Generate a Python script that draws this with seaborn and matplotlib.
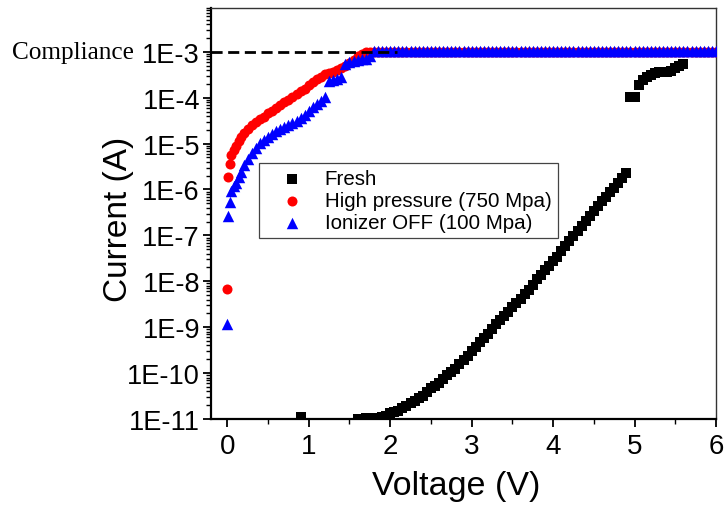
import numpy as np
import pandas as pd
import matplotlib
matplotlib.use("Agg")
import matplotlib.pyplot as plt
import seaborn as sns
from matplotlib.ticker import LogLocator, FixedLocator, MultipleLocator, NullFormatter, FuncFormatter
import matplotlib.transforms as mtransforms

sns.set_theme(style="white")
plt.rcParams['font.family'] = ['Liberation Sans', 'DejaVu Sans']
plt.rcParams['text.color'] = 'black'
plt.rcParams['axes.labelcolor'] = 'black'

# ---------------- data (voltage in V, log10 of current in A) ----------------
fresh_voltage = [0.9,
    1.6, 1.65, 1.7, 1.75, 1.8, 1.85, 1.9, 1.95, 2.0, 2.05, 2.1, 2.15, 2.2, 2.25,
    2.3, 2.35, 2.4, 2.45, 2.5, 2.55, 2.6, 2.65, 2.7, 2.75, 2.8, 2.85, 2.9, 2.95,
    3.0, 3.05, 3.1, 3.15, 3.2, 3.25, 3.3, 3.35, 3.4, 3.45, 3.5, 3.55, 3.6, 3.65,
    3.7, 3.75, 3.8, 3.85, 3.9, 3.95, 4.0, 4.05, 4.1, 4.15, 4.2, 4.25, 4.3, 4.35,
    4.4, 4.45, 4.5, 4.55, 4.6, 4.65, 4.7, 4.75, 4.8, 4.85, 4.9,
    4.95, 5.0, 5.05, 5.1, 5.15, 5.2, 5.25, 5.3, 5.35, 5.4, 5.45, 5.5, 5.55, 5.6]
fresh_log10_current = [-10.96,
    -11.0, -11.0, -10.98, -10.97, -10.98, -10.97, -10.95, -10.93, -10.88, -10.85, -10.82, -10.77, -10.72, -10.66,
    -10.60, -10.55, -10.49, -10.41, -10.33, -10.28, -10.22, -10.13, -10.05, -9.97, -9.90, -9.80, -9.71, -9.63,
    -9.52, -9.43, -9.33, -9.23, -9.14, -9.04, -8.94, -8.85, -8.76, -8.67, -8.57, -8.48, -8.38, -8.28,
    -8.18, -8.07, -7.96, -7.86, -7.76, -7.66, -7.56, -7.46, -7.35, -7.24, -7.13, -7.02, -6.90, -6.79,
    -6.68, -6.57, -6.46, -6.36, -6.26, -6.16, -6.06, -5.96, -5.86, -5.76, -5.65,
    -3.98, -3.98, -3.72, -3.62, -3.55, -3.50, -3.46, -3.45, -3.45, -3.44, -3.41, -3.36, -3.31, -3.27]

plateau_voltage = [
    1.85, 1.9, 1.95, 2.0, 2.05, 2.1, 2.15, 2.2, 2.25, 2.3, 2.35, 2.4, 2.45, 2.5,
    2.55, 2.6, 2.65, 2.7, 2.75, 2.8, 2.85, 2.9, 2.95, 3.0, 3.05, 3.1, 3.15, 3.2,
    3.25, 3.3, 3.35, 3.4, 3.45, 3.5, 3.55, 3.6, 3.65, 3.7, 3.75, 3.8, 3.85, 3.9,
    3.95, 4.0, 4.05, 4.1, 4.15, 4.2, 4.25, 4.3, 4.35, 4.4, 4.45, 4.5, 4.55, 4.6,
    4.65, 4.7, 4.75, 4.8, 4.85, 4.9, 4.95, 5.0, 5.05, 5.1, 5.15, 5.2, 5.25, 5.3,
    5.35, 5.4, 5.45, 5.5, 5.55, 5.6, 5.65, 5.7, 5.75, 5.8, 5.85, 5.9, 5.95, 6.0]

hp_voltage = [0.0, 0.01, 0.03, 0.05, 0.08, 0.11, 0.14, 0.17, 0.21, 0.25, 0.3, 0.35,
    0.4, 0.45, 0.5, 0.55, 0.6, 0.65, 0.7, 0.75, 0.8, 0.85, 0.9, 0.95, 1.0, 1.05,
    1.1, 1.15, 1.2, 1.25, 1.3, 1.35, 1.4, 1.45, 1.5, 1.55, 1.6, 1.65, 1.7, 1.75, 1.8] + plateau_voltage
hp_log10_current = [-8.17, -5.73, -5.44, -5.25, -5.13, -5.05, -4.95, -4.86, -4.77, -4.68, -4.60, -4.53,
    -4.47, -4.41, -4.34, -4.28, -4.22, -4.16, -4.09, -4.04, -3.98, -3.93, -3.86, -3.80, -3.73, -3.66,
    -3.60, -3.54, -3.49, -3.46, -3.43, -3.39, -3.36, -3.32, -3.25, -3.17, -3.10, -3.04, -3.01, -3.01, -3.01] + \
    [-3.01] * len(plateau_voltage)

ion_voltage = [0.0, 0.01, 0.03, 0.05, 0.08, 0.11, 0.14, 0.17, 0.21, 0.25, 0.3, 0.35,
    0.4, 0.45, 0.5, 0.55, 0.6, 0.65, 0.7, 0.75, 0.8, 0.85, 0.9, 0.95, 1.0, 1.05,
    1.1, 1.15, 1.2, 1.25, 1.3, 1.35, 1.4, 1.45, 1.5, 1.55, 1.6, 1.65, 1.7, 1.75, 1.8] + plateau_voltage
ion_log10_current = [-8.93, -6.58, -6.27, -6.03, -5.93, -5.85, -5.72, -5.62, -5.47, -5.34, -5.20, -5.09,
    -4.99, -4.92, -4.85, -4.78, -4.73, -4.68, -4.64, -4.60, -4.56, -4.51, -4.45, -4.37, -4.29, -4.21,
    -4.14, -4.07, -3.98, -3.64, -3.62, -3.59, -3.55, -3.27, -3.22, -3.19, -3.17, -3.16, -3.16, -3.10, -2.99] + \
    [-2.99] * len(plateau_voltage)

compliance_current = 1e-3
compliance_x_end = 2.08

series_names = ["Fresh", "High pressure (750 Mpa)", "Ionizer OFF (100 Mpa)"]
y_tick_exponents = [-11, -10, -9, -8, -7, -6, -5, -4, -3]
y_tick_labels = ["1E-11", "1E-10", "1E-9", "1E-8", "1E-7", "1E-6", "1E-5", "1E-4", "1E-3"]
x_ticks = [0, 1, 2, 3, 4, 5, 6]

df_fresh = pd.DataFrame({"V": fresh_voltage, "I": np.power(10.0, fresh_log10_current)})
df_hp = pd.DataFrame({"V": hp_voltage, "I": np.power(10.0, hp_log10_current)})
df_ion = pd.DataFrame({"V": ion_voltage, "I": np.power(10.0, ion_log10_current)})

# ---------------- figure ----------------
fig = plt.figure(figsize=(7.26, 5.06), dpi=100)
ax = fig.add_axes([211 / 726, 1 - 420 / 506, (716 - 211) / 726, (420 - 9) / 506])

sns.scatterplot(data=df_fresh, x="V", y="I", ax=ax, color="black", marker="s", s=52,
                linewidth=0, label=series_names[0], zorder=3)
sns.scatterplot(data=df_hp, x="V", y="I", ax=ax, color="#ff0000", marker="o", s=52,
                linewidth=0, label=series_names[1], zorder=3)
sns.scatterplot(data=df_ion, x="V", y="I", ax=ax, color="#0000ff", marker="^", s=68,
                linewidth=0, label=series_names[2], zorder=3)

ax.plot([-0.2, compliance_x_end], [compliance_current, compliance_current],
        color="black", lw=2, ls=(0, (4, 2)), zorder=4)

ax.set_yscale("log")
ax.set_xlim(-0.2, 6.0)
ax.set_ylim(1e-11, 9e-3)

ax.yaxis.set_major_locator(FixedLocator([10.0 ** e for e in y_tick_exponents]))
ax.yaxis.set_major_formatter(FuncFormatter(
    lambda v, p: y_tick_labels[y_tick_exponents.index(int(round(np.log10(v))))]
    if int(round(np.log10(v))) in y_tick_exponents else ""))
ax.yaxis.set_minor_locator(LogLocator(base=10, subs=np.arange(2, 10), numticks=20))
ax.yaxis.set_minor_formatter(NullFormatter())
ax.xaxis.set_major_locator(FixedLocator(x_ticks))
ax.xaxis.set_minor_locator(MultipleLocator(0.5))

ax.tick_params(axis="both", which="major", direction="out", length=6, width=1.3,
               labelsize=19.5, color="black", labelcolor="black", pad=2)
ax.tick_params(axis="both", which="minor", direction="out", length=3.5, width=1.0, color="black")
ax.tick_params(axis="x", which="major", labelsize=20, pad=4)
ax.tick_params(left=True, bottom=True, which="both")

for side in ["left", "bottom"]:
    ax.spines[side].set_color("black")
    ax.spines[side].set_linewidth(1.6)
for side in ["top", "right"]:
    ax.spines[side].set_color("#333333")
    ax.spines[side].set_linewidth(1.0)

ax.set_xlabel("Voltage (V)", fontsize=24.5, color="black")
ax.set_ylabel("Current (A)", fontsize=24, color="black")
ax.yaxis.set_label_coords(-0.152, 0.487)
ax.xaxis.set_label_coords(0.485, -0.125)
ax.grid(False)

trans = mtransforms.blended_transform_factory(ax.transAxes, ax.transData)
ax.text(-0.152, compliance_current, "Compliance", transform=trans, ha="right", va="center",
        fontsize=18.2, family=["Liberation Serif", "DejaVu Serif"], color="black")

leg = ax.legend(loc="upper left", bbox_to_anchor=(0.095, 0.623), borderaxespad=0,
                fontsize=14.8, frameon=True, fancybox=False, framealpha=1,
                edgecolor="#444444", handletextpad=0.3, borderpad=0.3,
                labelspacing=0.15, handlelength=2.6, markerscale=1.0)
leg.get_frame().set_linewidth(0.9)
for t in leg.get_texts():
    t.set_color("black")

fig.savefig("out.png", dpi=100)
